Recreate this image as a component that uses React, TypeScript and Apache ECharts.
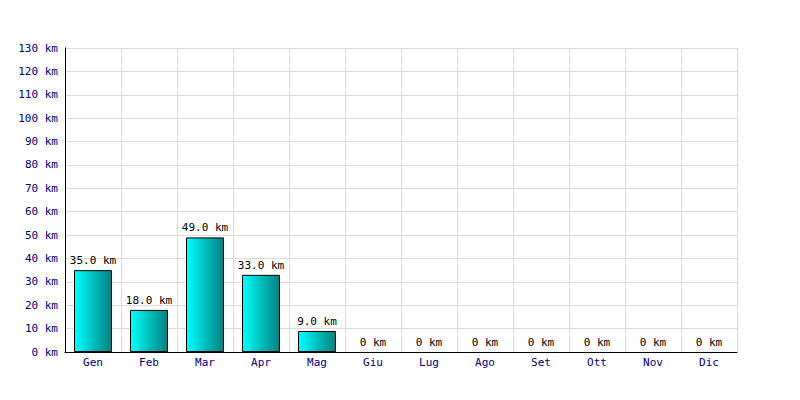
import React, { useEffect, useRef } from "react";
import * as echarts from "echarts";

const months = ["Gen", "Feb", "Mar", "Apr", "Mag", "Giu", "Lug", "Ago", "Set", "Ott", "Nov", "Dic"];
const km = [35, 18, 49, 33, 9, 0, 0, 0, 0, 0, 0, 0];

const FONT = "DejaVu Sans Mono";

export default function App() {
  const ref = useRef<HTMLDivElement>(null);
  useEffect(() => {
    const chart = echarts.init(ref.current!, null, { renderer: "svg" });
    chart.setOption({
      animation: false,
      backgroundColor: "#ffffff",
      grid: { left: 65, right: 63, top: 48, bottom: 48 },
      xAxis: {
        type: "category",
        data: months,
        boundaryGap: true,
        axisLine: { lineStyle: { color: "#000000", width: 1 } },
        axisTick: { show: false },
        axisLabel: { color: "#000080", fontFamily: FONT, fontSize: 11, margin: 5 },
        splitLine: { show: true, lineStyle: { color: "#dcdcdc", width: 1 } },
      },
      yAxis: {
        type: "value",
        min: 0,
        max: 130,
        interval: 10,
        axisLine: { show: true, lineStyle: { color: "#000000", width: 1 } },
        axisTick: { show: false },
        axisLabel: {
          color: "#000080",
          fontFamily: FONT,
          fontSize: 11,
          margin: 7,
          formatter: (v: number) => `${v} km`,
        },
        splitLine: { show: true, lineStyle: { color: "#dcdcdc", width: 1 } },
      },
      series: [
        {
          type: "bar",
          data: km.map((v) => ({
            value: v,
            itemStyle: v === 0 ? { borderWidth: 0, opacity: 0 } : undefined,
            label: v === 0 ? { opacity: 1 } : undefined,
          })),
          barWidth: 38,
          itemStyle: {
            color: new echarts.graphic.LinearGradient(0, 0, 1, 0, [
              { offset: 0, color: "#00ffff" },
              { offset: 1, color: "#008080" },
            ]),
            borderColor: "#000000",
            borderWidth: 1,
          },
          label: {
            show: true,
            position: "top",
            distance: 4,
            color: "#000000",
            textBorderWidth: 0,
            fontFamily: FONT,
            fontSize: 11,
            formatter: (p: any) => (p.value === 0 ? "0 km" : `${p.value.toFixed(1)} km`),
          },
        },
      ],
    });
    return () => chart.dispose();
  }, []);
  return <div ref={ref} style={{ width: 800, height: 400, margin: -8 }} />;
}
